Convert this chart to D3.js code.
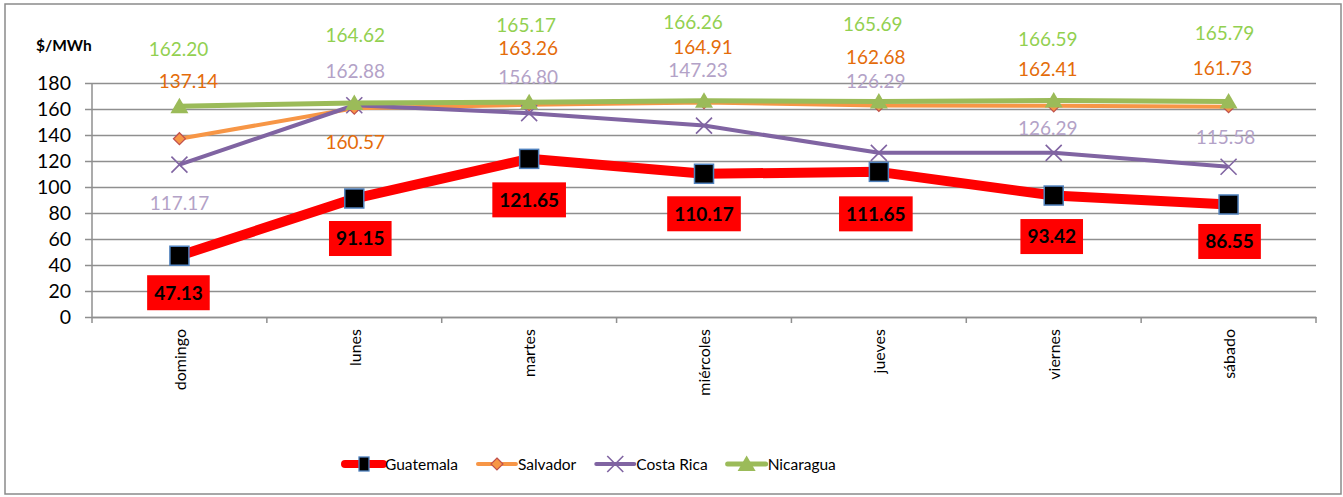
<!DOCTYPE html>
<html>
<head>
<meta charset="utf-8">
<script src="https://cdn.jsdelivr.net/npm/d3@7"></script>
<style>
  html, body { margin: 0; padding: 0; background: #fff; }
  svg { display: block; font-family: Lato, "Open Sans", sans-serif; }
</style>
</head>
<body>
<svg id="chart" width="1343" height="497"></svg>
<script>
// ---------- DATA ----------
const days = ["domingo", "lunes", "martes", "miércoles", "jueves", "viernes", "sábado"];
const guatemala = [47.13, 91.15, 121.65, 110.17, 111.65, 93.42, 86.55];
const salvador  = [137.14, 160.57, 163.26, 164.91, 162.68, 162.41, 161.73];
const costaRica = [117.17, 162.88, 156.80, 147.23, 126.29, 126.29, 115.58];
const nicaragua = [162.20, 164.62, 165.17, 166.26, 165.69, 166.59, 165.79];
const yTicks = [0, 20, 40, 60, 80, 100, 120, 140, 160, 180];
const seriesNames = ["Guatemala", "Salvador", "Costa Rica", "Nicaragua"];
const unitLabel = "$/MWh";

// ---------- LAYOUT (label nudges relative to each point, px) ----------
const labelNudge = {
  Guatemala:   { dx: [-1, 6, 0, 0, -3, -2, 1],      dy: [37, 40, 41, 40, 42, 41, 37] },
  Salvador:    { dx: [9, 1, -1, -1, -3, -6, -6],    dy: [-58, 34, -57, -55, -48, -37, -39] },
  "Costa Rica":{ dx: [0, 1, -1, -6, -3, -6, -3],    dy: [38, -34, -36, -55, -72, -25, -30] },
  Nicaragua:   { dx: [-1, 1, -3, -11, -6, -6, -4],  dy: [-57, -68, -77, -79, -77, -61, -68] }
};

const series = [
  { name: seriesNames[0], values: guatemala, color: "#FF0000", width: 10, label: "#000", marker: "square" },
  { name: seriesNames[1], values: salvador,  color: "#F79646", width: 4,  label: "#E46C0A", marker: "diamond" },
  { name: seriesNames[2], values: costaRica, color: "#8064A2", width: 4,  label: "#B3A2C7", marker: "x" },
  { name: seriesNames[3], values: nicaragua, color: "#9BBB59", width: 5,  label: "#92D050", marker: "triangle" }
];

const svg = d3.select("#chart");
const pLeft = 92, pRight = 1316, pTop = 83, pBottom = 317;
const gridColor = "#8f8f8f";

// outer border
svg.append("rect").attr("x", 5).attr("y", 4).attr("width", 1336).attr("height", 490)
  .attr("fill", "#fff").attr("stroke", "#8a8a8a").attr("stroke-width", 1.5);

const x = d3.scalePoint().domain(days).range([pLeft, pRight]).padding(0.5);
const xb = d3.scaleBand().domain(days).range([pLeft, pRight]);
const y = d3.scaleLinear().domain([0, 180]).range([pBottom, pTop]);

// gridlines + y tick labels
const gy = svg.append("g").attr("transform", `translate(${pRight},0)`)
  .call(d3.axisLeft(y).tickValues(yTicks).tickSize(pRight - 85).tickPadding(14).tickFormat(d3.format("d")));
gy.select(".domain").remove();
gy.selectAll(".tick line").attr("stroke", gridColor).attr("stroke-width", 1.5);
gy.selectAll(".tick text").attr("font-size", "19.5px").attr("fill", "#000")
  .attr("font-family", "Lato, 'Open Sans', sans-serif");

// y axis line
svg.append("line").attr("x1", pLeft).attr("x2", pLeft).attr("y1", pTop).attr("y2", pBottom)
  .attr("stroke", gridColor).attr("stroke-width", 1.5);

// x axis
const gx = svg.append("g").attr("transform", `translate(0,${pBottom})`)
  .call(d3.axisBottom(x).tickSize(0).tickPadding(0));
gx.select(".domain").attr("stroke", gridColor).attr("stroke-width", 1.5);
gx.selectAll(".tick text")
  .attr("font-size", "16px").attr("fill", "#000")
  .attr("font-family", "Lato, 'Open Sans', sans-serif")
  .attr("text-anchor", "end")
  .attr("transform", "translate(0,12) rotate(-90)")
  .attr("x", 0).attr("y", 0).attr("dy", "0.36em");
// boundary tick marks
const bounds = days.map(d => xb(d)).concat([pRight]);
svg.append("g").selectAll("line").data(bounds).join("line")
  .attr("x1", d => d).attr("x2", d => d).attr("y1", pBottom).attr("y2", pBottom + 6)
  .attr("stroke", gridColor).attr("stroke-width", 1.5);

// unit label
svg.append("text").attr("x", 36).attr("y", 51).text(unitLabel)
  .attr("font-size", "15.5px").attr("font-weight", "bold").attr("fill", "#000");

// markers
function drawMarker(g, type, color) {
  if (type === "square") {
    g.append("rect").attr("x", -9.5).attr("y", -9.5).attr("width", 19).attr("height", 19)
      .attr("fill", "#000").attr("stroke", "#4F81BD").attr("stroke-width", 1.5);
  } else if (type === "diamond") {
    g.append("path").attr("d", "M0,-6L6,0L0,6L-6,0Z")
      .attr("fill", "#F79646").attr("stroke", "#C0504D").attr("stroke-width", 1.2);
  } else if (type === "x") {
    g.append("path").attr("d", "M-8,-8L8,8M-8,8L8,-8")
      .attr("fill", "none").attr("stroke", color).attr("stroke-width", 1.6);
  } else if (type === "triangle") {
    g.append("path").attr("d", "M0,-8.5L9,7L-9,7Z").attr("fill", color);
  }
}

const line = d3.line().x((d, i) => x(days[i])).y(d => y(d));

series.forEach(s => {
  svg.append("path").datum(s.values).attr("d", line)
    .attr("fill", "none").attr("stroke", s.color).attr("stroke-width", s.width)
    .attr("stroke-linejoin", "round").attr("stroke-linecap", "butt");
  const mg = svg.append("g");
  s.values.forEach((v, i) => {
    const g = mg.append("g").attr("transform", `translate(${x(days[i])},${y(v)})`);
    drawMarker(g, s.marker, s.color);
  });
});

// data labels
series.forEach(s => {
  const nud = labelNudge[s.name];
  const lg = svg.append("g");
  s.values.forEach((v, i) => {
    const cx = x(days[i]) + nud.dx[i];
    const cy = y(v) + nud.dy[i];
    const t = lg.append("text").attr("x", cx).attr("y", cy).attr("dy", "0.36em")
      .attr("text-anchor", "middle").text(d3.format(".2f")(v));
    if (s.name === "Guatemala") {
      t.attr("font-size", "19px").attr("font-weight", "bold").attr("fill", "#000");
      const bb = t.node().getBBox();
      lg.insert("rect", function() { return t.node(); })
        .attr("x", bb.x - 7).attr("y", cy - 17.5).attr("width", bb.width + 14).attr("height", 35)
        .attr("fill", "#FF0000");
    } else {
      t.attr("font-size", "19px").attr("fill", s.label);
    }
  });
});

// legend
const legY = 464;
let lx = 345;
series.forEach(s => {
  const g = svg.append("g").attr("transform", `translate(${lx},${legY})`);
  g.append("line").attr("x1", 0).attr("x2", 38).attr("y1", 0).attr("y2", 0)
    .attr("stroke", s.color).attr("stroke-width", s.width === 10 ? 8 : s.width)
    .attr("stroke-linecap", "round");
  const mk = g.append("g").attr("transform", "translate(19,0)");
  if (s.marker === "square") {
    mk.append("rect").attr("x", -5).attr("y", -7).attr("width", 10).attr("height", 14)
      .attr("fill", "#000").attr("stroke", "#4F81BD").attr("stroke-width", 1.3);
  } else {
    drawMarker(mk, s.marker, s.color);
  }
  const t = g.append("text").attr("x", 40).attr("y", 0).attr("dy", "0.36em")
    .attr("font-size", "15.5px").attr("fill", "#000").text(s.name);
  lx += 40 + t.node().getComputedTextLength() + 20;
});
</script>
</body>
</html>
